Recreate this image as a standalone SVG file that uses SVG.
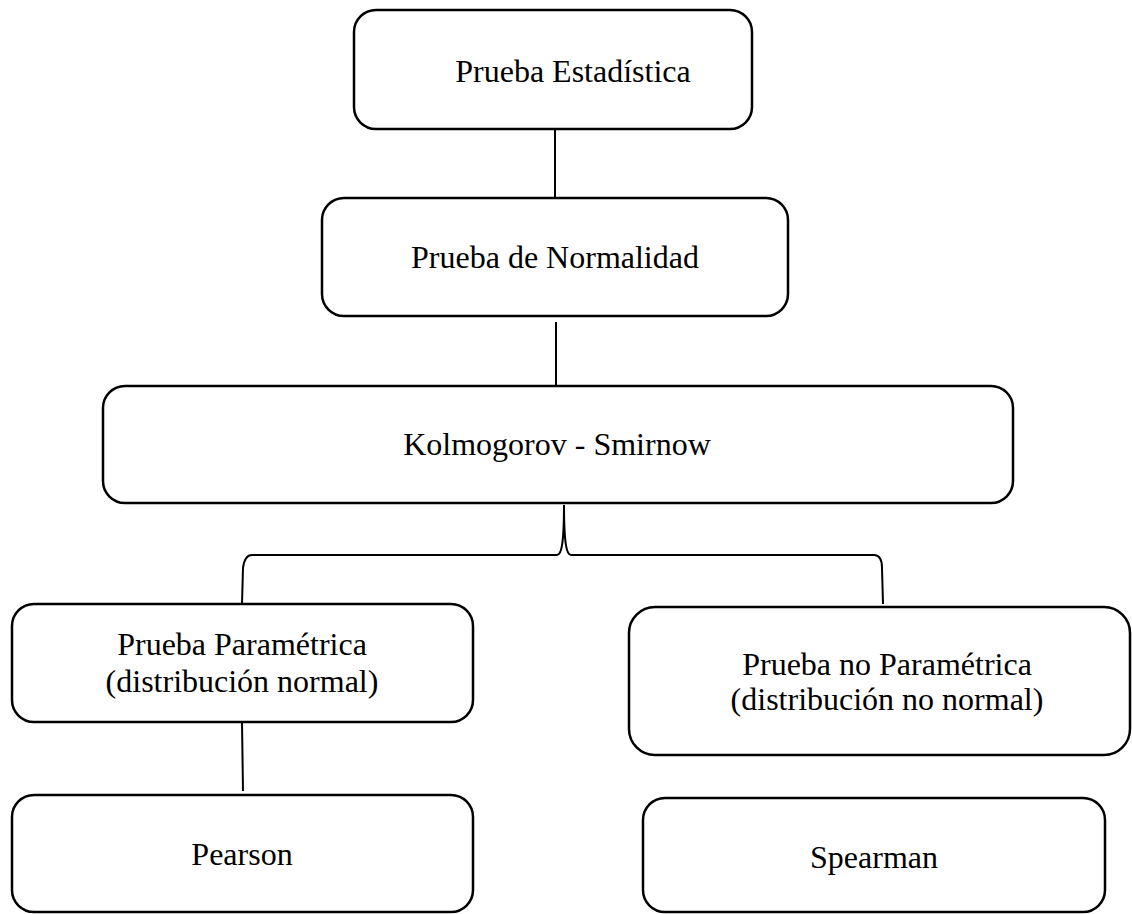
<svg xmlns="http://www.w3.org/2000/svg" width="1132" height="914" viewBox="0 0 1132 914">
<style>
.box{fill:#fff;stroke:#000;stroke-width:2.5}
.t{font-family:"Liberation Serif","Times New Roman",serif;font-size:32px;fill:#000;text-anchor:middle}
.c{fill:none;stroke:#000;stroke-width:2}
</style>
<rect width="1132" height="914" fill="#fff"/>
<g id="connectors">
<line class="c" x1="555" y1="129" x2="555" y2="198"/>
<line class="c" x1="556" y1="322" x2="556" y2="386"/>
<path class="c" d="M564 505 C564 540 562 555 557 555 L252 555 C246 555 244 560 243 568 L242 604"/>
<path class="c" d="M564 505 C564 540 566 555 571 555 L874 555 C880 555 882 560 882 568 L883 604"/>
<line class="c" x1="242" y1="722" x2="243" y2="791"/>
</g>
<g id="n1"><rect class="box" x="354" y="10" width="398" height="119" rx="22"/><text class="t" x="573" y="82">Prueba Estadística</text></g>
<g id="n2"><rect class="box" x="322" y="198" width="466" height="118" rx="22"/><text class="t" x="555" y="268">Prueba de Normalidad</text></g>
<g id="n3"><rect class="box" x="103" y="386" width="910" height="117" rx="22"/><text class="t" x="557" y="455">Kolmogorov - Smirnow</text></g>
<g id="n4"><rect class="box" x="12" y="604" width="461" height="118" rx="22"/><text class="t" x="242" y="655">Prueba Paramétrica</text><text class="t" x="242" y="692">(distribución normal)</text></g>
<g id="n5"><rect class="box" x="12" y="795" width="461" height="117" rx="22"/><text class="t" x="242" y="865">Pearson</text></g>
<g id="n6"><rect class="box" x="629" y="607" width="501" height="148" rx="26"/><text class="t" x="887" y="675">Prueba no Paramétrica</text><text class="t" x="887" y="710">(distribución no normal)</text></g>
<g id="n7"><rect class="box" x="643" y="798" width="462" height="114" rx="22"/><text class="t" x="874" y="868">Spearman</text></g>
</svg>
